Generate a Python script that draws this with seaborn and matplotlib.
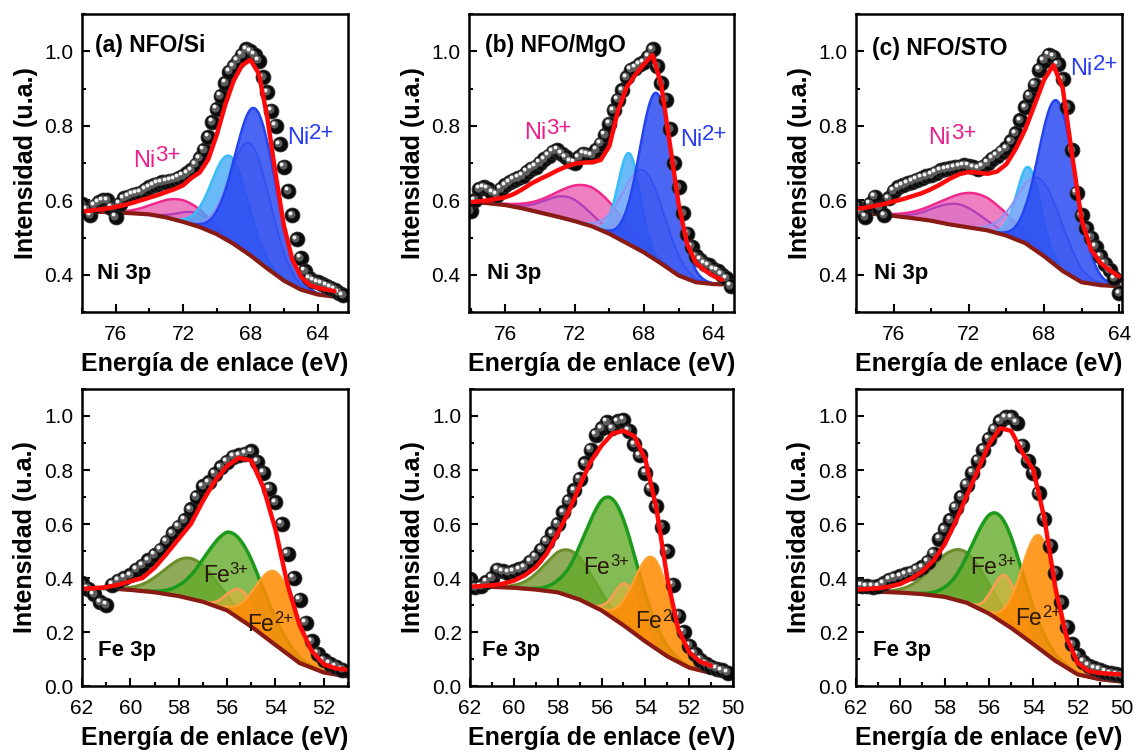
import numpy as np
import matplotlib
matplotlib.use("Agg")
import matplotlib.pyplot as plt
import seaborn as sns
from matplotlib.transforms import offset_copy
from matplotlib.ticker import MultipleLocator, FormatStrFormatter

# ------------------------------------------------------------------ data
# binding-energy positions of the measured points (eV)
ni_energy_grid = [78.0, 77.75, 77.5, 77.25, 77.0, 76.75, 76.5, 76.25, 76.0, 75.75, 75.5, 75.25, 75.0, 74.75,
                  74.5, 74.25, 74.0, 73.75, 73.5, 73.25, 73.0, 72.75, 72.5, 72.25, 72.0, 71.75, 71.5, 71.25,
                  71.0, 70.75, 70.5, 70.25, 70.0, 69.75, 69.5, 69.25, 69.0, 68.75, 68.5, 68.25, 68.0, 67.75,
                  67.5, 67.25, 67.0, 66.75, 66.5, 66.25, 66.0, 65.75, 65.5, 65.25, 65.0, 64.75, 64.5, 64.25,
                  64.0, 63.75, 63.5, 63.25, 63.0, 62.75, 62.5]
fe_energy_grid = [62.0, 61.75, 61.5, 61.25, 61.0, 60.75, 60.5, 60.25, 60.0, 59.75, 59.5, 59.25, 59.0, 58.75,
                  58.5, 58.25, 58.0, 57.75, 57.5, 57.25, 57.0, 56.75, 56.5, 56.25, 56.0, 55.75, 55.5, 55.25,
                  55.0, 54.75, 54.5, 54.25, 54.0, 53.75, 53.5, 53.25, 53.0, 52.75, 52.5, 52.25, 52.0, 51.75,
                  51.5, 51.25, 51.0, 50.75, 50.5, 50.25, 50.0]

# Ni 3p, panel (a) NFO/Si
ni_a_energy = ni_energy_grid[:63]
ni_a_intensity = [0.59, 0.575, 0.56, 0.585, 0.595, 0.60, 0.60, 0.58, 0.555, 0.59, 0.605, 0.61, 0.615, 0.618,
                  0.62, 0.628, 0.635, 0.64, 0.644, 0.648, 0.65, 0.653, 0.655, 0.66, 0.665, 0.672, 0.68, 0.695,
                  0.713, 0.735, 0.77, 0.81, 0.845, 0.88, 0.915, 0.945, 0.96, 0.975, 0.99, 1.005, 1.0, 0.99,
                  0.975, 0.93, 0.89, 0.84, 0.80, 0.75, 0.69, 0.625, 0.56, 0.495, 0.445, 0.41, 0.39, 0.383,
                  0.38, 0.375, 0.37, 0.365, 0.36, 0.352, 0.345]
ni_a_fit_energy = [78.0, 77.5, 77.0, 76.5, 76.0, 75.5, 75.0, 74.5, 74.0, 73.5, 73.0, 72.5, 72.0, 71.5, 71.0, 70.5,
                   70.0, 69.5, 69.0, 68.5, 68.0, 67.5, 67.0, 66.5, 66.0, 65.5, 65.0, 64.5, 64.0, 63.5, 63.0]
ni_a_fit = [0.570, 0.572, 0.575, 0.578, 0.582, 0.587, 0.593, 0.600, 0.607, 0.614, 0.622, 0.630, 0.640, 0.660, 0.675,
            0.710, 0.775, 0.855, 0.920, 0.962, 0.977, 0.940, 0.824, 0.670, 0.530, 0.440, 0.395, 0.373, 0.365, 0.360,
            0.356]
ni_a_bg_energy = [78, 77, 76, 75, 74, 73, 72, 71, 70, 69, 68, 67, 66, 65, 64, 63]
ni_a_bg = [0.570, 0.569, 0.567, 0.565, 0.562, 0.554, 0.542, 0.528, 0.509, 0.483, 0.452, 0.417, 0.384, 0.360, 0.347,
           0.341]

# Ni 3p, panel (b) NFO/MgO
ni_b_energy = ni_energy_grid[:61]
ni_b_intensity = [0.57, 0.60, 0.63, 0.635, 0.63, 0.62, 0.615, 0.63, 0.64, 0.648, 0.655, 0.66, 0.665, 0.676,
                  0.685, 0.69, 0.70, 0.71, 0.72, 0.73, 0.735, 0.725, 0.715, 0.705, 0.70, 0.715, 0.725, 0.722,
                  0.72, 0.735, 0.752, 0.775, 0.805, 0.842, 0.87, 0.895, 0.93, 0.95, 0.955, 0.965, 0.97, 0.985,
                  1.005, 0.96, 0.915, 0.87, 0.79, 0.70, 0.635, 0.565, 0.51, 0.475, 0.45, 0.44, 0.43, 0.425,
                  0.415, 0.41, 0.40, 0.39, 0.37]
ni_b_fit_energy = [78.0, 77.5, 77.0, 76.5, 76.0, 75.5, 75.0, 74.5, 74.0, 73.5, 73.0, 72.5, 72.0, 71.5, 71.0, 70.5,
                   70.0, 69.5, 69.0, 68.5, 68.0, 67.5, 67.0, 66.5, 66.0, 65.5, 65.0, 64.5, 64.0, 63.5]
ni_b_fit = [0.595, 0.597, 0.600, 0.604, 0.608, 0.617, 0.630, 0.645, 0.657, 0.668, 0.680, 0.690, 0.698, 0.701, 0.702,
            0.708, 0.745, 0.840, 0.903, 0.937, 0.965, 0.990, 0.910, 0.750, 0.590, 0.482, 0.432, 0.412, 0.397, 0.386]
ni_b_bg_energy = [78, 77, 76, 75, 74, 73, 72, 71, 70, 69, 68, 67, 66, 65, 64, 63.5]
ni_b_bg = [0.596, 0.592, 0.587, 0.578, 0.567, 0.556, 0.544, 0.530, 0.510, 0.485, 0.460, 0.430, 0.398, 0.380, 0.375,
           0.374]

# Ni 3p, panel (c) NFO/STO
ni_c_energy = ni_energy_grid[:57]
ni_c_intensity = [0.585, 0.57, 0.555, 0.59, 0.61, 0.58, 0.56, 0.605, 0.625, 0.635, 0.64, 0.645, 0.65, 0.655,
                  0.66, 0.664, 0.668, 0.674, 0.68, 0.683, 0.686, 0.688, 0.69, 0.694, 0.692, 0.688, 0.685, 0.69,
                  0.70, 0.712, 0.72, 0.73, 0.74, 0.758, 0.78, 0.815, 0.85, 0.88, 0.91, 0.95, 0.975, 0.99,
                  0.985, 0.965, 0.925, 0.85, 0.735, 0.62, 0.56, 0.525, 0.50, 0.475, 0.45, 0.43, 0.413, 0.39,
                  0.35]
ni_c_fit_energy = [78.0, 77.5, 77.0, 76.5, 76.0, 75.5, 75.0, 74.5, 74.0, 73.5, 73.0, 72.5, 72.0, 71.5, 71.0, 70.5,
                   70.0, 69.5, 69.0, 68.5, 68.0, 67.5, 67.0, 66.5, 66.0, 65.5, 65.0, 64.5, 64.0]
ni_c_fit = [0.577, 0.580, 0.585, 0.590, 0.597, 0.603, 0.611, 0.619, 0.630, 0.643, 0.658, 0.670, 0.676, 0.674, 0.671,
            0.677, 0.697, 0.738, 0.790, 0.856, 0.923, 0.963, 0.900, 0.720, 0.548, 0.468, 0.432, 0.412, 0.395]
ni_c_bg_energy = [78, 77, 76, 75, 74, 73, 72, 71, 70, 69, 68, 67, 66, 65, 64]
ni_c_bg = [0.568, 0.563, 0.558, 0.552, 0.545, 0.535, 0.527, 0.519, 0.505, 0.485, 0.450, 0.410, 0.380, 0.372, 0.369]

# Ni fitted components: Ni3+ (pink), Ni3+ b (purple), Ni2+ sat (cyan), Ni2+ b (lavender), Ni2+ (blue)
ni_components = ["pink", "purple", "cyan", "lavender", "blue"]
ni_a_center = [72.0, 71.2, 69.2, 68.0, 67.7]
ni_a_height = [0.058, 0.035, 0.23, 0.30, 0.404]
ni_a_fwhm = [3.6, 2.4, 2.5, 2.8, 2.8]
ni_b_center = [71.2, 72.4, 68.85, 68.0, 67.25]
ni_b_height = [0.105, 0.06, 0.245, 0.22, 0.45]
ni_b_fwhm = [4.4, 3.0, 1.5, 2.8, 2.3]
ni_c_center = [71.7, 72.6, 68.8, 68.2, 67.3]
ni_c_height = [0.094, 0.058, 0.21, 0.20, 0.445]
ni_c_fwhm = [4.2, 3.0, 1.5, 2.8, 2.3]

# Fe 3p, panel (a)
fe_a_energy = fe_energy_grid[:44]
fe_a_intensity = [0.38, 0.36, 0.34, 0.31, 0.30, 0.375, 0.39, 0.40, 0.41, 0.43, 0.445, 0.465, 0.485, 0.505,
                  0.535, 0.565, 0.59, 0.615, 0.655, 0.70, 0.74, 0.755, 0.785, 0.81, 0.83, 0.85, 0.855, 0.86,
                  0.87, 0.83, 0.79, 0.73, 0.68, 0.60, 0.49, 0.40, 0.32, 0.235, 0.165, 0.12, 0.095, 0.082,
                  0.072, 0.06]
fe_a_fit_energy = [62.0, 61.5, 61.0, 60.5, 60.0, 59.5, 59.0, 58.5, 58.0, 57.5, 57.0, 56.5, 56.0, 55.5, 55.0, 54.5,
                   54.0, 53.5, 53.0, 52.5, 52.0, 51.5, 51.0]
fe_a_fit = [0.360, 0.362, 0.366, 0.375, 0.388, 0.400, 0.438, 0.490, 0.545, 0.600, 0.685, 0.760, 0.815, 0.845, 0.835,
            0.735, 0.580, 0.375, 0.225, 0.130, 0.080, 0.065, 0.060]
fe_a_bg_energy = [62, 61, 60, 59, 58, 57, 56, 55, 54, 53, 52, 51]
fe_a_bg = [0.365, 0.362, 0.356, 0.347, 0.333, 0.312, 0.280, 0.220, 0.152, 0.085, 0.050, 0.035]

# Fe 3p, panel (b)
fe_b_energy = fe_energy_grid[:48]
fe_b_intensity = [0.395, 0.365, 0.37, 0.385, 0.40, 0.43, 0.425, 0.42, 0.425, 0.432, 0.44, 0.46, 0.478, 0.505,
                  0.535, 0.565, 0.60, 0.643, 0.685, 0.725, 0.767, 0.825, 0.875, 0.93, 0.955, 0.978, 0.955, 0.98,
                  0.985, 0.945, 0.895, 0.855, 0.79, 0.73, 0.665, 0.59, 0.50, 0.375, 0.26, 0.20, 0.15, 0.12,
                  0.097, 0.083, 0.072, 0.064, 0.058, 0.05]
fe_b_fit_energy = [62.0, 61.5, 61.0, 60.5, 60.0, 59.5, 59.0, 58.5, 58.0, 57.5, 57.0, 56.5, 56.0, 55.5, 55.0, 54.5,
                   54.0, 53.5, 53.0, 52.5, 52.0, 51.5, 51.0]
fe_b_fit = [0.368, 0.370, 0.373, 0.379, 0.390, 0.410, 0.440, 0.490, 0.565, 0.645, 0.740, 0.830, 0.890, 0.935, 0.945,
            0.925, 0.840, 0.660, 0.400, 0.210, 0.125, 0.090, 0.075]
fe_b_bg_energy = [62, 61, 60, 59, 58, 57, 56, 55, 54, 53, 52, 51]
fe_b_bg = [0.368, 0.367, 0.364, 0.357, 0.347, 0.320, 0.280, 0.225, 0.165, 0.110, 0.068, 0.048]

# Fe 3p, panel (c)
fe_c_energy = fe_energy_grid[:49]
fe_c_intensity = [0.375, 0.372, 0.37, 0.368, 0.37, 0.38, 0.393, 0.40, 0.407, 0.413, 0.42, 0.43, 0.44, 0.46,
                  0.49, 0.545, 0.58, 0.615, 0.66, 0.70, 0.745, 0.79, 0.835, 0.875, 0.915, 0.95, 0.98, 0.995,
                  0.995, 0.975, 0.89, 0.835, 0.79, 0.715, 0.62, 0.52, 0.42, 0.31, 0.22, 0.155, 0.115, 0.09,
                  0.075, 0.066, 0.06, 0.052, 0.047, 0.043, 0.04]
fe_c_fit_energy = [62.0, 61.5, 61.0, 60.5, 60.0, 59.5, 59.0, 58.5, 58.0, 57.5, 57.0, 56.5, 56.0, 55.5, 55.0, 54.5,
                   54.0, 53.5, 53.0, 52.5, 52.0, 51.5, 51.0, 50.5, 50.0]
fe_c_fit = [0.357, 0.359, 0.362, 0.368, 0.378, 0.398, 0.425, 0.465, 0.525, 0.610, 0.705, 0.800, 0.895, 0.955, 0.945,
            0.865, 0.800, 0.620, 0.360, 0.180, 0.085, 0.055, 0.048, 0.045, 0.043]
fe_c_bg_energy = [62, 61, 60, 59, 58, 57, 56, 55, 54, 53, 52, 51, 50]
fe_c_bg = [0.350, 0.349, 0.346, 0.340, 0.330, 0.308, 0.268, 0.215, 0.155, 0.093, 0.043, 0.025, 0.016]

# Fe fitted components: Fe3+ sat (olive), Fe3+ (green), Fe2+ b (light orange), Fe2+ (orange)
fe_components = ["olive", "green", "lightorange", "orange"]
fe_a_center = [57.5, 55.7, 55.4, 53.95]
fe_a_height = [0.15, 0.30, 0.11, 0.272]
fe_a_fwhm = [2.5, 2.7, 1.3, 2.0]
fe_b_center = [57.45, 55.55, 54.85, 53.65]
fe_b_height = [0.17, 0.44, 0.16, 0.33]
fe_b_fwhm = [2.5, 2.7, 1.3, 2.0]
fe_c_center = [57.25, 55.6, 55.25, 53.7]
fe_c_height = [0.19, 0.39, 0.18, 0.42]
fe_c_fwhm = [2.8, 2.6, 1.3, 1.9]

panel_titles = ["(a) NFO/Si", "(b) NFO/MgO", "(c) NFO/STO"]
ni_label = "Ni 3p"
fe_label = "Fe 3p"
x_label = "Energía de enlace (eV)"
y_label = "Intensidad (u.a.)"

# ------------------------------------------------------------------ style
sns.set_theme(style="white")
plt.rcParams["font.family"] = ["Liberation Sans", "DejaVu Sans"]
plt.rcParams["axes.unicode_minus"] = False

STYLE = {
    "pink": dict(line="#f0288c", fill="#e84aa8", alpha=0.70, lw=1.8),
    "purple": dict(line="#b43cb8", fill="#c060c8", alpha=0.30, lw=1.6),
    "cyan": dict(line="#38bdf8", fill="#45a8f8", alpha=0.80, lw=1.8),
    "lavender": dict(line="#8c94f4", fill="#9aa2ff", alpha=0.45, lw=1.5),
    "blue": dict(line="#2444f0", fill="#2244f0", alpha=0.82, lw=1.8),
    "olive": dict(line="#6e8e2a", fill="#7c9c3c", alpha=0.85, lw=2.2),
    "green": dict(line="#1c9a1c", fill="#64aa2a", alpha=0.80, lw=2.5),
    "lightorange": dict(line="#f5a050", fill="#f2b235", alpha=0.55, lw=2.0),
    "orange": dict(line="#ffa030", fill="#ff8c05", alpha=0.88, lw=1.6),
}
BG_COLOR = "#8a1a14"
FIT_COLOR = "#ff0a0a"
LABEL_NI3 = "#ea1e8c"
LABEL_NI2 = "#2a3cf0"
LABEL_FE = "#2a1808"


def peak_profile(e, center, height, fwhm):
    return height * np.exp(-4.0 * np.log(2.0) * (e - center) ** 2 / fwhm ** 2)


fig = plt.figure(figsize=(11.37, 7.53), dpi=100)

W = 1137.0
H = 753.0


def make_ax(x0, y0, x1, y1):
    return fig.add_axes([x0 / W, 1 - y1 / H, (x1 - x0) / W, (y1 - y0) / H])


panels = [
    dict(box=(82, 14, 348, 312), xlim=(78.0, 62.2), ylim=(0.3, 1.1), xmaj=4, xmin=2,
         e=ni_a_energy, y=ni_a_intensity, fe=ni_a_fit_energy, fy=ni_a_fit, be=ni_a_bg_energy, by=ni_a_bg,
         kinds=ni_components, cen=ni_a_center, hei=ni_a_height, fw=ni_a_fwhm,
         title=panel_titles[0], tpos=(0.049, 0.874), core=ni_label, cpos=(0.055, 0.11),
         lab=[("Ni", "3+", LABEL_NI3, 0.192, 0.488), ("Ni", "2+", LABEL_NI2, 0.770, 0.564)], kind="ni"),
    dict(box=(469, 14, 734, 312), xlim=(78.1, 62.8), ylim=(0.3, 1.1), xmaj=4, xmin=2,
         e=ni_b_energy, y=ni_b_intensity, fe=ni_b_fit_energy, fy=ni_b_fit, be=ni_b_bg_energy, by=ni_b_bg,
         kinds=ni_components, cen=ni_b_center, hei=ni_b_height, fw=ni_b_fwhm,
         title=panel_titles[1], tpos=(0.06, 0.874), core=ni_label, cpos=(0.068, 0.11),
         lab=[("Ni", "3+", LABEL_NI3, 0.2075, 0.580), ("Ni", "2+", LABEL_NI2, 0.796, 0.558)], kind="ni"),
    dict(box=(856, 14, 1122, 312), xlim=(78.0, 63.85), ylim=(0.3, 1.1), xmaj=4, xmin=2,
         e=ni_c_energy, y=ni_c_intensity, fe=ni_c_fit_energy, fy=ni_c_fit, be=ni_c_bg_energy, by=ni_c_bg,
         kinds=ni_components, cen=ni_c_center, hei=ni_c_height, fw=ni_c_fwhm,
         title=panel_titles[2], tpos=(0.06, 0.862), core=ni_label, cpos=(0.066, 0.11),
         lab=[("Ni", "3+", LABEL_NI3, 0.273, 0.564), ("Ni", "2+", LABEL_NI2, 0.806, 0.795)], kind="ni"),
    dict(box=(82, 389, 348, 686), xlim=(62.0, 51.0), ylim=(0.0, 1.1), xmaj=2, xmin=1,
         e=fe_a_energy, y=fe_a_intensity, fe=fe_a_fit_energy, fy=fe_a_fit, be=fe_a_bg_energy, by=fe_a_bg,
         kinds=fe_components, cen=fe_a_center, hei=fe_a_height, fw=fe_a_fwhm,
         title=None, tpos=None, core=fe_label, cpos=(0.062, 0.10),
         lab=[("Fe", "3+", LABEL_FE, 0.455, 0.351), ("Fe", "2+", LABEL_FE, 0.62, 0.185)], kind="fe"),
    dict(box=(470, 389, 733, 686), xlim=(62.0, 50.0), ylim=(0.0, 1.1), xmaj=2, xmin=1,
         e=fe_b_energy, y=fe_b_intensity, fe=fe_b_fit_energy, fy=fe_b_fit, be=fe_b_bg_energy, by=fe_b_bg,
         kinds=fe_components, cen=fe_b_center, hei=fe_b_height, fw=fe_b_fwhm,
         title=None, tpos=None, core=fe_label, cpos=(0.046, 0.10),
         lab=[("Fe", "3+", LABEL_FE, 0.431, 0.377), ("Fe", "2+", LABEL_FE, 0.627, 0.194)], kind="fe"),
    dict(box=(856, 389, 1122, 686), xlim=(62.0, 50.0), ylim=(0.0, 1.1), xmaj=2, xmin=1,
         e=fe_c_energy, y=fe_c_intensity, fe=fe_c_fit_energy, fy=fe_c_fit, be=fe_c_bg_energy, by=fe_c_bg,
         kinds=fe_components, cen=fe_c_center, hei=fe_c_height, fw=fe_c_fwhm,
         title=None, tpos=None, core=fe_label, cpos=(0.065, 0.10),
         lab=[("Fe", "3+", LABEL_FE, 0.429, 0.377), ("Fe", "2+", LABEL_FE, 0.600, 0.205)], kind="fe"),
]

for p in panels:
    ax = make_ax(*p["box"])
    ax.set_facecolor("white")

    be = np.asarray(p["be"], dtype=float)
    by = np.asarray(p["by"], dtype=float)
    grid = np.linspace(be.min(), be.max(), 600)
    base = np.interp(grid, be[::-1], by[::-1])

    # fitted components on the background
    for i, (kind, c, h, w) in enumerate(zip(p["kinds"], p["cen"], p["hei"], p["fw"])):
        st = STYLE[kind]
        top = base + peak_profile(grid, c, h, w)
        ax.fill_between(grid, base, top, color=st["fill"], alpha=st["alpha"], lw=0, zorder=2 + 0.01 * i)
        ax.plot(grid, top, color=st["line"], lw=st["lw"], zorder=2.005 + 0.01 * i, solid_capstyle="round")

    # background
    sns.lineplot(x=p["be"], y=p["by"], ax=ax, color=BG_COLOR, lw=3.0, sort=False, estimator=None, zorder=3)

    # labels
    fs_main = 17 if p["kind"] == "ni" else 16.5
    fs_sup = 16 if p["kind"] == "ni" else 12
    sup_y = 0.47 if p["kind"] == "ni" else 0.56
    for base_txt, sup, col, tx, ty in p["lab"]:
        t = ax.text(tx, ty, base_txt, transform=ax.transAxes, fontsize=fs_main, color=col,
                    ha="left", va="baseline", zorder=3.5)
        ax.annotate(sup, xy=(1.0, sup_y), xycoords=t, fontsize=fs_sup, color=col,
                    ha="left", va="baseline", zorder=3.5)
    if p["title"]:
        ax.text(p["tpos"][0], p["tpos"][1], p["title"], transform=ax.transAxes, fontsize=16.5,
                fontweight="bold", ha="left", va="baseline", color="black", zorder=3.5)
    ax.text(p["cpos"][0], p["cpos"][1], p["core"], transform=ax.transAxes, fontsize=16,
            fontweight="bold", ha="left", va="baseline", color="black", zorder=3.5)

    # data points (dark spheres with highlights)
    sns.scatterplot(x=p["e"], y=p["y"], ax=ax, s=115, color="#0b0b0b", edgecolor="#303030",
                    linewidth=0.6, zorder=4, legend=False)
    tr1 = offset_copy(ax.transData, fig=fig, x=-1.4, y=1.4, units="dots")
    tr2 = offset_copy(ax.transData, fig=fig, x=-2.6, y=2.6, units="dots")
    ax.scatter(p["e"], p["y"], s=34, color="#5c5c5c", lw=0, zorder=4.1, transform=tr1)
    ax.scatter(p["e"], p["y"], s=8, color="#f2f2f2", lw=0, zorder=4.2, transform=tr2)

    # envelope
    sns.lineplot(x=p["fe"], y=p["fy"], ax=ax, color=FIT_COLOR, lw=3.2, sort=False, estimator=None, zorder=5)

    ax.set_xlim(*p["xlim"])
    ax.set_ylim(*p["ylim"])
    ax.xaxis.set_major_locator(MultipleLocator(p["xmaj"]))
    ax.xaxis.set_minor_locator(MultipleLocator(p["xmin"]))
    ax.yaxis.set_major_locator(MultipleLocator(0.2))
    ax.yaxis.set_minor_locator(MultipleLocator(0.1))
    ax.yaxis.set_major_formatter(FormatStrFormatter("%.1f"))
    ax.xaxis.set_major_formatter(FormatStrFormatter("%d"))
    ax.tick_params(which="both", direction="in", bottom=True, left=True, top=False, right=False,
                   colors="black", width=1.5)
    ax.tick_params(which="major", length=5.5, labelsize=15)
    ax.tick_params(axis="x", which="major", pad=9.5)
    ax.tick_params(axis="y", which="major", pad=6)
    ax.tick_params(which="minor", length=3)
    for s in ax.spines.values():
        s.set_color("black")
        s.set_linewidth(1.8)
        s.set_zorder(6)
    ax.set_xlabel(x_label, fontsize=18, fontweight="bold", labelpad=5.5, color="black")
    ax.set_ylabel(y_label, fontsize=18, fontweight="bold", labelpad=5, color="black")
    ax.grid(False)

fig.savefig("out.png", dpi=100, facecolor="white")
